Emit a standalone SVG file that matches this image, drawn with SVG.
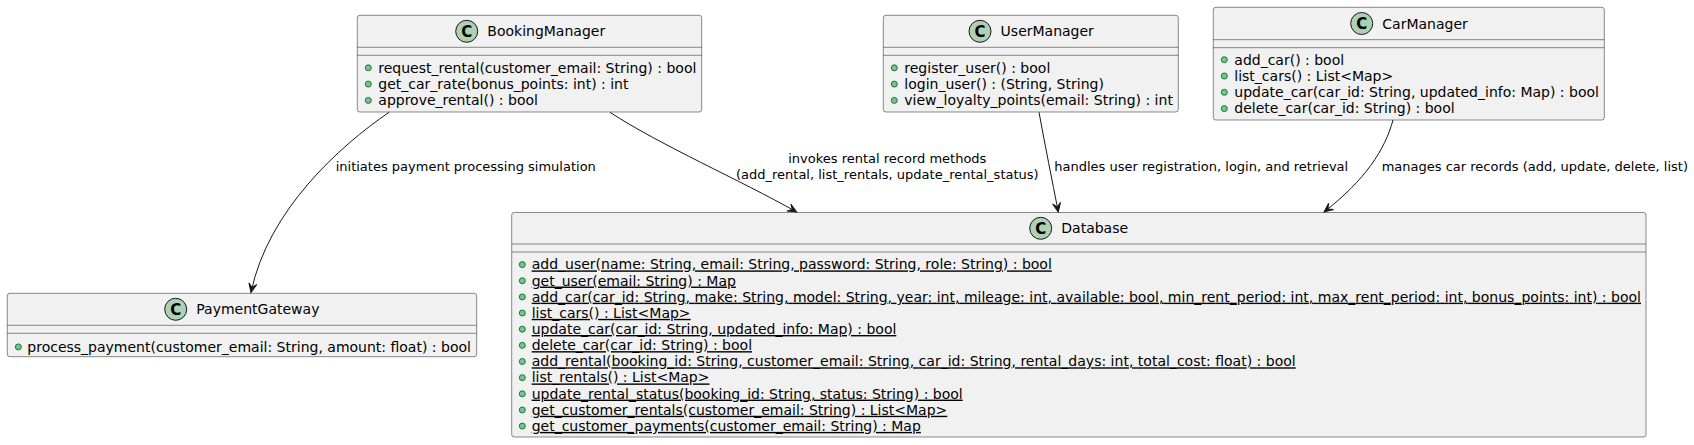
<svg xmlns="http://www.w3.org/2000/svg" width="1694" height="445" viewBox="0 0 1694 445">
<style>
.box{fill:#F1F1F1;stroke:#181818;stroke-width:0.5}
.sep{stroke:#181818;stroke-width:0.5}
.circ{fill:#ADD1B2;stroke:#181818;stroke-width:1}
.cl{font-family:"DejaVu Sans",sans-serif;font-size:15px;font-weight:bold;fill:#000;text-anchor:middle}
.name{font-family:"DejaVu Sans",sans-serif;font-size:14px;fill:#000}
.mem{font-family:"DejaVu Sans",sans-serif;font-size:14px;fill:#000}
.st{text-decoration:underline}
.dot{fill:#84BE84;stroke:#038048;stroke-width:1}
.lbl{font-family:"DejaVu Sans",sans-serif;font-size:13px;fill:#000}
.edge{fill:none;stroke:#181818;stroke-width:1}
</style>
<defs>
<marker id="arr" markerUnits="userSpaceOnUse" markerWidth="12" markerHeight="10" viewBox="-10 -5 12 10" refX="0" refY="0" orient="auto">
<path d="M0,0 L-9,-4 L-5,0 L-9,4 Z" fill="#181818" stroke="#181818" stroke-width="1"/>
</marker>
</defs>

<g id="BookingManager">
<rect class="box" x="357.3" y="15.3" width="344.4" height="96.7" rx="2.5"/>
<circle class="circ" cx="466.7" cy="31.3" r="11"/>
<text class="cl" x="466.7" y="36.6">C</text>
<text class="name" x="487.3" y="36.3">BookingManager</text>
<line class="sep" x1="357.3" y1="47.3" x2="701.7" y2="47.3"/>
<line class="sep" x1="357.3" y1="55.3" x2="701.7" y2="55.3"/>
<circle class="dot" cx="368.3" cy="67.8" r="3"/>
<text class="mem" x="378.3" y="72.6">request_rental(customer_email: String) : bool</text>
<circle class="dot" cx="368.3" cy="84.1" r="3"/>
<text class="mem" x="378.3" y="88.9">get_car_rate(bonus_points: int) : int</text>
<circle class="dot" cx="368.3" cy="100.4" r="3"/>
<text class="mem" x="378.3" y="105.2">approve_rental() : bool</text>
</g>

<g id="UserManager">
<rect class="box" x="883.3" y="15.3" width="295" height="96.7" rx="2.5"/>
<circle class="circ" cx="980" cy="31.3" r="11"/>
<text class="cl" x="980" y="36.6">C</text>
<text class="name" x="1000.6" y="36.3">UserManager</text>
<line class="sep" x1="883.3" y1="47.3" x2="1178.3" y2="47.3"/>
<line class="sep" x1="883.3" y1="55.3" x2="1178.3" y2="55.3"/>
<circle class="dot" cx="894.3" cy="67.8" r="3"/>
<text class="mem" x="904.3" y="72.6">register_user() : bool</text>
<circle class="dot" cx="894.3" cy="84.1" r="3"/>
<text class="mem" x="904.3" y="88.9">login_user() : (String, String)</text>
<circle class="dot" cx="894.3" cy="100.4" r="3"/>
<text class="mem" x="904.3" y="105.2">view_loyalty_points(email: String) : int</text>
</g>

<g id="CarManager">
<rect class="box" x="1213.3" y="7.3" width="391" height="112.7" rx="2.5"/>
<circle class="circ" cx="1361.7" cy="23.5" r="11"/>
<text class="cl" x="1361.7" y="28.8">C</text>
<text class="name" x="1382.3" y="28.5">CarManager</text>
<line class="sep" x1="1213.3" y1="39.7" x2="1604.3" y2="39.7"/>
<line class="sep" x1="1213.3" y1="47.7" x2="1604.3" y2="47.7"/>
<circle class="dot" cx="1224.3" cy="59.7" r="3"/>
<text class="mem" x="1234.3" y="64.5">add_car() : bool</text>
<circle class="dot" cx="1224.3" cy="76" r="3"/>
<text class="mem" x="1234.3" y="80.8">list_cars() : List&lt;Map&gt;</text>
<circle class="dot" cx="1224.3" cy="92.3" r="3"/>
<text class="mem" x="1234.3" y="97.1">update_car(car_id: String, updated_info: Map) : bool</text>
<circle class="dot" cx="1224.3" cy="108.6" r="3"/>
<text class="mem" x="1234.3" y="113.4">delete_car(car_id: String) : bool</text>
</g>

<g id="PaymentGateway">
<rect class="box" x="7.3" y="293.3" width="469.4" height="63.4" rx="2.5"/>
<circle class="circ" cx="175.7" cy="309.3" r="11"/>
<text class="cl" x="175.7" y="314.6">C</text>
<text class="name" x="196.3" y="314.3">PaymentGateway</text>
<line class="sep" x1="7.3" y1="325.3" x2="476.7" y2="325.3"/>
<line class="sep" x1="7.3" y1="333.3" x2="476.7" y2="333.3"/>
<circle class="dot" cx="18.3" cy="346.9" r="3"/>
<text class="mem" x="27.3" y="351.7">process_payment(customer_email: String, amount: float) : bool</text>
</g>

<g id="Database">
<rect class="box" x="511.7" y="212.5" width="1134.3" height="224.5" rx="2.5"/>
<circle class="circ" cx="1040.7" cy="228.3" r="11"/>
<text class="cl" x="1040.7" y="233.6">C</text>
<text class="name" x="1061.3" y="233.3">Database</text>
<line class="sep" x1="511.7" y1="244" x2="1646" y2="244"/>
<line class="sep" x1="511.7" y1="252" x2="1646" y2="252"/>
<g>
<circle class="dot" cx="522.3" cy="264.6" r="3"/>
<circle class="dot" cx="522.3" cy="280.75" r="3"/>
<circle class="dot" cx="522.3" cy="296.9" r="3"/>
<circle class="dot" cx="522.3" cy="313.05" r="3"/>
<circle class="dot" cx="522.3" cy="329.2" r="3"/>
<circle class="dot" cx="522.3" cy="345.35" r="3"/>
<circle class="dot" cx="522.3" cy="361.5" r="3"/>
<circle class="dot" cx="522.3" cy="377.65" r="3"/>
<circle class="dot" cx="522.3" cy="393.8" r="3"/>
<circle class="dot" cx="522.3" cy="409.95" r="3"/>
<circle class="dot" cx="522.3" cy="426.1" r="3"/>
</g>
<text class="mem st" x="531.7" y="269.4">add_user(name: String, email: String, password: String, role: String) : bool</text>
<text class="mem st" x="531.7" y="285.55">get_user(email: String) : Map</text>
<text class="mem st" x="531.7" y="301.7" textLength="1109.3" lengthAdjust="spacing">add_car(car_id: String, make: String, model: String, year: int, mileage: int, available: bool, min_rent_period: int, max_rent_period: int, bonus_points: int) : bool</text>
<text class="mem st" x="531.7" y="317.85">list_cars() : List&lt;Map&gt;</text>
<text class="mem st" x="531.7" y="334">update_car(car_id: String, updated_info: Map) : bool</text>
<text class="mem st" x="531.7" y="350.15">delete_car(car_id: String) : bool</text>
<text class="mem st" x="531.7" y="366.3" textLength="764" lengthAdjust="spacing">add_rental(booking_id: String, customer_email: String, car_id: String, rental_days: int, total_cost: float) : bool</text>
<text class="mem st" x="531.7" y="382.45">list_rentals() : List&lt;Map&gt;</text>
<text class="mem st" x="531.7" y="398.6">update_rental_status(booking_id: String, status: String) : bool</text>
<text class="mem st" x="531.7" y="414.75">get_customer_rentals(customer_email: String) : List&lt;Map&gt;</text>
<text class="mem st" x="531.7" y="430.9">get_customer_payments(customer_email: String) : Map</text>
</g>

<g id="connectors">
<path class="edge" marker-end="url(#arr)" d="M389,112.3 C340,146 268,210 251,292.5"/>
<text class="lbl" x="335.7" y="171.3">initiates payment processing simulation</text>
<path class="edge" marker-end="url(#arr)" d="M610,112.3 C660,145 740,180 796.7,212"/>
<text class="lbl" x="887.3" y="163" text-anchor="middle">invokes rental record methods</text>
<text class="lbl" x="887.3" y="178.7" text-anchor="middle">(add_rental, list_rentals, update_rental_status)</text>
<path class="edge" marker-end="url(#arr)" d="M1039,112.3 C1045,145 1052,180 1058.3,212"/>
<text class="lbl" x="1054.3" y="170.6">handles user registration, login, and retrieval</text>
<path class="edge" marker-end="url(#arr)" d="M1393,120 C1385,150 1365,180 1324,212"/>
<text class="lbl" x="1381.7" y="171.3">manages car records (add, update, delete, list)</text>
</g>
</svg>
